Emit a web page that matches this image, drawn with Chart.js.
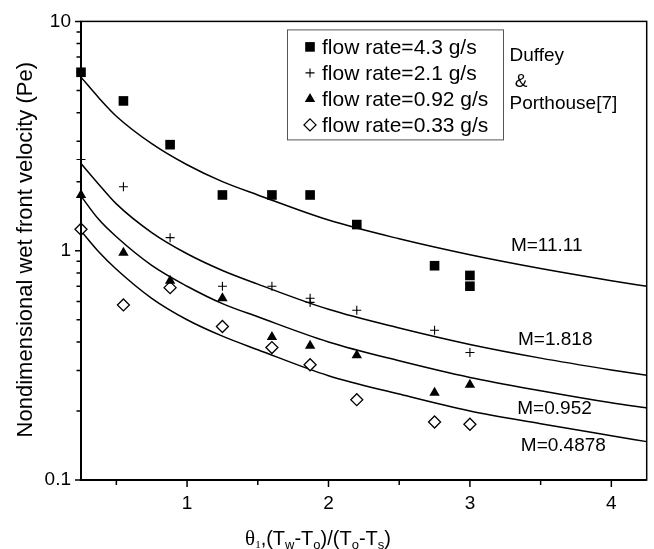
<!DOCTYPE html>
<html>
<head>
<meta charset="utf-8">
<script src="https://cdn.jsdelivr.net/npm/chart.js@4.4.1/dist/chart.umd.min.js"></script>
<style>
  html, body { margin: 0; padding: 0; background: #fff; }
  #wrap { width: 654px; height: 549px; }
</style>
</head>
<body>
<div id="wrap"><canvas id="chart" width="654" height="549"></canvas></div>
<script>
// Measured points (x = theta_1, y = Pe)
const SQ_X = [0.25, 0.55, 0.88, 1.25, 1.6, 1.87, 2.2, 2.75, 3.0, 3.0];
const SQ_Y = [6.0, 4.5, 2.9, 1.75, 1.75, 1.75, 1.3, 0.86, 0.78, 0.70];

const PLUS_X = [0.25, 0.55, 0.88, 1.25, 1.6, 1.87, 1.87, 2.2, 2.75, 3.0];
const PLUS_Y = [2.5, 1.9, 1.14, 0.70, 0.70, 0.62, 0.595, 0.55, 0.45, 0.36];

const TRI_X = [0.25, 0.55, 0.88, 1.25, 1.6, 1.87, 2.2, 2.75, 3.0];
const TRI_Y = [1.75, 0.98, 0.74, 0.62, 0.42, 0.385, 0.35, 0.24, 0.26];

const DIA_X = [0.25, 0.55, 0.88, 1.25, 1.6, 1.87, 2.2, 2.75, 3.0];
const DIA_Y = [1.24, 0.58, 0.69, 0.467, 0.378, 0.318, 0.224, 0.179, 0.175];

// Duffey & Porthouse curves
const CURVE_X = [0.25, 0.375, 0.5, 0.75, 1, 1.25, 1.5, 2, 2.5, 3, 3.5, 4, 4.25];
const M11_Y  = [5.71, 4.65, 3.86, 2.93, 2.37, 2.00, 1.75, 1.36, 1.127, 0.96, 0.836, 0.74, 0.70];
const M18_Y  = [2.40, 1.95, 1.60, 1.20, 0.97, 0.82, 0.715, 0.555, 0.46, 0.39, 0.34, 0.302, 0.286];
const M09_Y  = [1.73, 1.37, 1.15, 0.863, 0.70, 0.588, 0.515, 0.40, 0.331, 0.28, 0.245, 0.217, 0.206];
const M04_Y  = [1.22, 0.99, 0.83, 0.62, 0.50, 0.424, 0.37, 0.285, 0.237, 0.20, 0.176, 0.156, 0.147];

const LEGEND_LABELS = ['flow rate=4.3 g/s', 'flow rate=2.1 g/s', 'flow rate=0.92 g/s', 'flow rate=0.33 g/s'];

const X_TICKS = [0.5, 1, 1.5, 2, 2.5, 3, 3.5, 4];
const Y_TICKS = [0.1, 0.2, 0.3, 0.4, 0.5, 0.6, 0.7, 0.8, 0.9, 1, 2, 3, 4, 5, 6, 7, 8, 9, 10];
const Y_MAJOR = [0.1, 1, 10];

// text placed in data coordinates (left edge, vertical middle)
const NOTES = [
    { text: 'Duffey', x: 3.28, y: 7.05 },
    { text: ' &', x: 3.28, y: 5.43 },
    { text: 'Porthouse[7]', x: 3.28, y: 4.39 },
    { text: 'M=11.11', x: 3.29, y: 1.05 },
    { text: 'M=1.818', x: 3.34, y: 0.409 },
    { text: 'M=0.952', x: 3.335, y: 0.205 },
    { text: 'M=0.4878', x: 3.36, y: 0.141 }
];

const SANS = '"Liberation Sans", Arial, sans-serif';
const SERIF = '"Liberation Serif", "Times New Roman", serif';

const pts = (xs, ys) => xs.map((x, i) => ({ x: x, y: ys[i] }));

function markerSet(label, xs, ys, style, radius, fill, border) {
    return {
        label: label,
        data: pts(xs, ys),
        showLine: false,
        pointStyle: style,
        pointRadius: radius,
        pointHoverRadius: radius,
        pointBackgroundColor: fill,
        pointBorderColor: '#000',
        pointBorderWidth: border,
        clip: false
    };
}

function curveSet(ys) {
    return {
        data: pts(CURVE_X, ys),
        showLine: true,
        borderColor: '#000',
        borderWidth: 1.5,
        pointRadius: 0,
        cubicInterpolationMode: 'monotone',
        fill: false
    };
}

const markers = [
    markerSet(LEGEND_LABELS[0], SQ_X, SQ_Y, 'rect', 6.8, '#000', 0),
    markerSet(LEGEND_LABELS[1], PLUS_X, PLUS_Y, 'cross', 4.5, '#000', 1.1),
    markerSet(LEGEND_LABELS[2], TRI_X, TRI_Y, 'triangle', 6, '#000', 0),
    markerSet(LEGEND_LABELS[3], DIA_X, DIA_Y, 'rectRot', 6, '#fff', 1.3)
];

// frame, ticks, legend, notes and axis titles
const decor = {
    id: 'decor',
    afterDatasetsDraw(chart) {
        const { ctx, chartArea: a, scales: { x, y } } = chart;
        ctx.save();
        ctx.strokeStyle = '#000';
        ctx.fillStyle = '#000';

        ctx.lineWidth = 1.5;
        ctx.strokeRect(a.left, a.top, a.right - a.left, a.bottom - a.top);
        ctx.lineWidth = 2;
        ctx.beginPath();
        ctx.moveTo(a.left, a.top);
        ctx.lineTo(a.left, a.bottom);
        ctx.lineTo(a.right, a.bottom);
        ctx.stroke();

        ctx.lineWidth = 1.5;
        ctx.beginPath();
        X_TICKS.forEach(v => {
            const px = x.getPixelForValue(v);
            const len = Number.isInteger(v) ? 7 : 5;
            ctx.moveTo(px, a.bottom);
            ctx.lineTo(px, a.bottom + len);
        });
        Y_TICKS.forEach(v => {
            const py = y.getPixelForValue(v);
            const len = Y_MAJOR.includes(v) ? 6 : 4.5;
            ctx.moveTo(a.left, py);
            ctx.lineTo(a.left - len, py);
        });
        ctx.stroke();

        // legend box
        const lx = a.left + 206, ly = a.top + 8;
        ctx.lineWidth = 1;
        ctx.strokeStyle = '#555';
        ctx.strokeRect(lx + 0.5, ly + 0.5, 216, 110);
        ctx.font = '21px ' + SANS;
        ctx.textBaseline = 'middle';
        ctx.textAlign = 'left';
        markers.forEach((ds, i) => {
            const cy = ly + 17.5 + i * 26;
            ctx.fillStyle = ds.pointBackgroundColor;
            ctx.strokeStyle = '#000';
            ctx.lineWidth = ds.pointBorderWidth || 1;
            Chart.helpers.drawPoint(ctx, {
                pointStyle: ds.pointStyle,
                radius: ds.pointRadius,
                rotation: 0,
                borderWidth: ds.pointBorderWidth
            }, lx + 23, cy);
            ctx.fillStyle = '#000';
            ctx.fillText(LEGEND_LABELS[i], lx + 35, cy + 1);
        });

        // notes
        ctx.font = '19px ' + SANS;
        NOTES.forEach(n => {
            ctx.fillText(n.text, x.getPixelForValue(n.x), y.getPixelForValue(n.y));
        });

        // y title
        ctx.save();
        ctx.translate(26, (a.top + a.bottom) / 2 - 1);
        ctx.rotate(-Math.PI / 2);
        ctx.textAlign = 'center';
        ctx.font = '22px ' + SANS;
        ctx.fillText('Nondimensional wet front velocity (Pe)', 0, 0);
        ctx.restore();

        // x title with subscripts
        const parts = [
            ['\u03b8', SERIF, 21, 0], ['1', SERIF, 11, 3],
            [',(T', SANS, 20, 0], ['w', SANS, 13, 4],
            ['-T', SANS, 20, 0], ['o', SANS, 13, 4],
            [')/(T', SANS, 20, 0], ['o', SANS, 13, 4],
            ['-T', SANS, 20, 0], ['s', SANS, 13, 4],
            [')', SANS, 20, 0]
        ];
        ctx.textAlign = 'left';
        ctx.textBaseline = 'alphabetic';
        let total = 0;
        parts.forEach(p => { ctx.font = p[2] + 'px ' + p[1]; total += ctx.measureText(p[0]).width; });
        let cx = a.left + 237 - total / 2;
        const base = a.bottom + 65;
        parts.forEach(p => {
            ctx.font = p[2] + 'px ' + p[1];
            ctx.fillText(p[0], cx, base + p[3]);
            cx += ctx.measureText(p[0]).width;
        });

        ctx.restore();
    }
};

const ctx = document.getElementById('chart').getContext('2d');
new Chart(ctx, {
    type: 'scatter',
    data: {
        datasets: markers.concat([curveSet(M11_Y), curveSet(M18_Y), curveSet(M09_Y), curveSet(M04_Y)])
    },
    options: {
        responsive: false,
        animation: false,
        layout: { padding: { top: 19, right: 6, left: 0, bottom: 0 } },
        plugins: { legend: { display: false }, tooltip: { enabled: false } },
        scales: {
            x: {
                type: 'linear',
                min: 0.25,
                max: 4.25,
                afterBuildTicks: s => { s.ticks = X_TICKS.map(v => ({ value: v })); },
                afterFit: s => { s.height = 69; },
                grid: { display: false, drawTicks: false },
                border: { display: false },
                ticks: {
                    autoSkip: false,
                    maxRotation: 0,
                    padding: 12,
                    color: '#000',
                    font: { family: SANS, size: 19 },
                    callback: v => Number.isInteger(v) ? String(v) : ''
                }
            },
            y: {
                type: 'logarithmic',
                min: 0.1,
                max: 10,
                afterBuildTicks: s => { s.ticks = Y_TICKS.map(v => ({ value: v })); },
                afterFit: s => { s.width = 81; },
                grid: { display: false, drawTicks: false },
                border: { display: false },
                ticks: {
                    autoSkip: false,
                    padding: 10,
                    color: '#000',
                    font: { family: SANS, size: 19 },
                    callback: v => Y_MAJOR.includes(v) ? String(v) : ''
                }
            }
        }
    },
    plugins: [decor]
});
</script>
</body>
</html>
